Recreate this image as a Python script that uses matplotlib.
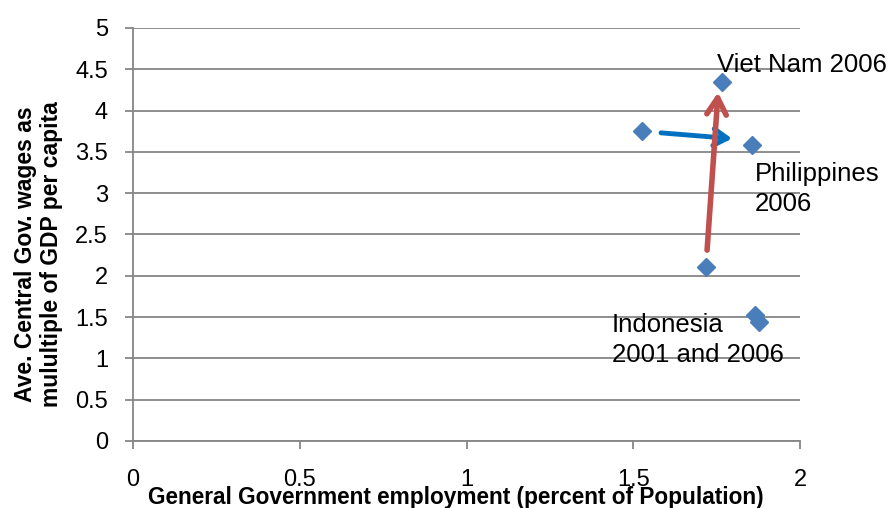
import matplotlib
matplotlib.use('Agg')
import matplotlib.pyplot as plt

plt.rcParams['font.family'] = ['Liberation Sans', 'DejaVu Sans']

# data
emp = [1.527, 1.856, 1.718, 1.766, 1.865, 1.877]
wage = [3.75, 3.58, 2.11, 4.35, 1.525, 1.44]
xticks = [0, 0.5, 1, 1.5, 2]
xticklabels = ['0', '0.5', '1', '1.5', '2']
yticks = [0, 0.5, 1, 1.5, 2, 2.5, 3, 3.5, 4, 4.5, 5]
yticklabels = ['0', '0.5', '1', '1.5', '2', '2.5', '3', '3.5', '4', '4.5', '5']

fig = plt.figure(figsize=(8.93, 5.08), dpi=100)
ax = fig.add_axes([0.149, 0.132, 0.747, 0.813])

ax.set_xlim(0, 2)
ax.set_ylim(0, 5)
ax.yaxis.grid(True, color='#868686', lw=1.3)
ax.set_axisbelow(True)
for s in ['top', 'right']:
    ax.spines[s].set_visible(False)
for s in ['left', 'bottom']:
    ax.spines[s].set_color('#868686')
    ax.spines[s].set_linewidth(1.3)

ax.plot(emp, wage, 'D', color='#4a7ebb', markersize=9, zorder=3, clip_on=False)

ax.set_xticks(xticks)
ax.set_xticklabels(xticklabels, fontsize=17)
ax.set_yticks(yticks)
ax.set_yticklabels(yticklabels, fontsize=17)
ax.tick_params(axis='both', color='#868686', length=6, width=1.3)
ax.tick_params(axis='x', pad=14)
ax.tick_params(axis='y', pad=12)

ax.set_xlabel('General Government employment (percent of Population)',
              fontsize=16.3, fontweight='bold')
ax.xaxis.set_label_coords(0.484, -0.108)
fig.text(0.043, 0.5, 'Ave. Central Gov. wages as\nmulultiple of GDP per capita',
         rotation=90, ha='center', va='center', fontsize=16.5, fontweight='bold',
         linespacing=1.2)

# arrows
ax.annotate('', xy=(1.796, 3.66), xytext=(1.583, 3.73),
            arrowprops=dict(arrowstyle='->,head_length=0.5,head_width=0.3',
                            color='#0070c0', lw=3.5, mutation_scale=20,
                            shrinkA=0, shrinkB=0))
ax.annotate('', xy=(1.754, 4.22), xytext=(1.721, 2.31),
            arrowprops=dict(arrowstyle='->,head_length=0.6,head_width=0.35',
                            color='#c0504d', lw=4, mutation_scale=20,
                            shrinkA=0, shrinkB=0))

# labels
ax.text(1.752, 4.55, 'Viet Nam 2006', fontsize=18.5, va='center', ha='left')
ax.text(1.865, 3.05, 'Philippines\n2006', fontsize=18.5, va='center', ha='left', linespacing=1.35)
ax.text(1.435, 1.22, 'Indonesia\n2001 and 2006', fontsize=18.5, va='center', ha='left', linespacing=1.35)

fig.savefig('out.png', dpi=100)
